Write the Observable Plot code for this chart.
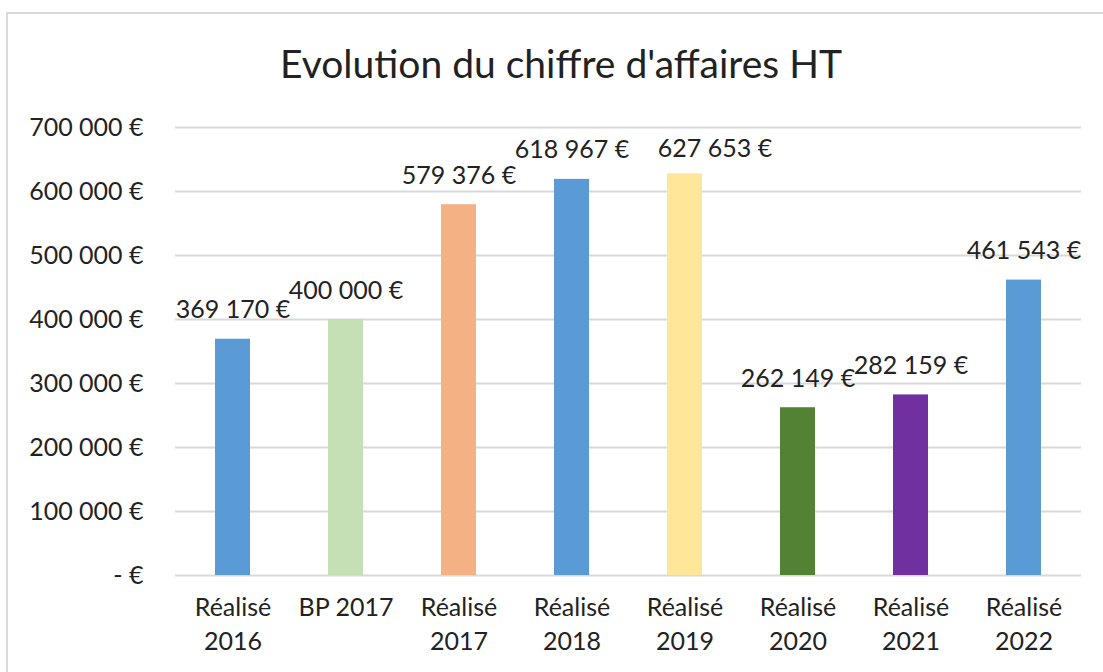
<!DOCTYPE html>
<html>
<head>
<meta charset="utf-8">
<script src="https://cdn.jsdelivr.net/npm/d3@7"></script>
<script src="https://cdn.jsdelivr.net/npm/@observablehq/plot@0.6"></script>
<style>
  html, body { margin: 0; padding: 0; background: #fff; }
  body { width: 1103px; height: 672px; overflow: hidden; position: relative; font-family: Lato, "Open Sans", sans-serif; }
  #frame { position: absolute; left: 6px; top: 12px; width: 1130px; height: 720px; border-left: 2px solid #d9d9d9; border-top: 2px solid #d9d9d9; box-sizing: border-box; pointer-events: none; }
  #title { position: relative; width: 1122px; height: 100px; box-sizing: border-box; padding-top: 44px; text-align: center; font-size: 39px; line-height: 39px; color: #222; white-space: nowrap; }
  #chart { position: relative; }
  #chart svg { display: block; }
</style>
</head>
<body>
<div id="frame"></div>
<div id="title">Evolution du chiffre d'affaires HT</div>
<div id="chart"></div>
<script>
const categories = ["Réalisé 2016", "BP 2017", "Réalisé 2017", "Réalisé 2018", "Réalisé 2019", "Réalisé 2020", "Réalisé 2021", "Réalisé 2022"];
const xTickLabels = ["Réalisé\n2016", "BP 2017", "Réalisé\n2017", "Réalisé\n2018", "Réalisé\n2019", "Réalisé\n2020", "Réalisé\n2021", "Réalisé\n2022"];
const values = [369170, 400000, 579376, 618967, 627653, 262149, 282159, 461543];
const barColors = ["#5B9BD5", "#C5E0B4", "#F4B183", "#5B9BD5", "#FFE699", "#548235", "#7030A0", "#5B9BD5"];
const yTicks = [0, 100000, 200000, 300000, 400000, 500000, 600000, 700000];

const data = categories.map((c, i) => ({cat: c, value: values[i], color: barColors[i]}));

const locale = d3.formatLocale({decimal: ",", thousands: " ", grouping: [3], currency: ["", " €"]});
const fmtMoney = locale.format("$,.0f");
const fmtY = d => d === 0 ? "- €" : fmtMoney(d);

// The 2019 data label sits offset to the right in the original (avoids overlap)
const movedLabel = "Réalisé 2019";

const chart = Plot.plot({
  width: 1103,
  height: 572,
  marginLeft: 175,
  marginRight: 22,
  marginTop: 27,
  marginBottom: 97,
  x: {domain: categories, paddingInner: 0.69, paddingOuter: 0.345, axis: null, label: null},
  y: {domain: [0, 700000], axis: null, label: null},
  color: {type: "identity"},
  style: {fontFamily: "Lato, 'Open Sans', sans-serif", fontSize: "25px", color: "#222", background: "transparent", overflow: "visible"},
  marks: [
    Plot.gridY(yTicks, {stroke: "#d9d9d9", strokeOpacity: 1, strokeWidth: 2}),
    Plot.axisY(yTicks, {tickSize: 0, tickPadding: 32, tickFormat: fmtY, fontSize: 25, label: null}),
    Plot.axisX({tickSize: 0, tickPadding: 17, tickFormat: d => xTickLabels[categories.indexOf(d)], lineHeight: 1.34, fontSize: 25, label: null}),
    Plot.barY(data, {x: "cat", y: "value", fill: "color"}),
    Plot.text(data, {filter: d => d.cat !== movedLabel, x: "cat", y: "value", text: d => fmtMoney(d.value), lineAnchor: "bottom", dy: -21, fontSize: 25, fill: "#222"}),
    Plot.text(data, {filter: d => d.cat === movedLabel, x: "cat", y: "value", text: d => fmtMoney(d.value), lineAnchor: "bottom", dx: 30, dy: -17, fontSize: 25, fill: "#222"})
  ]
});
document.getElementById("chart").appendChild(chart);
</script>
</body>
</html>
